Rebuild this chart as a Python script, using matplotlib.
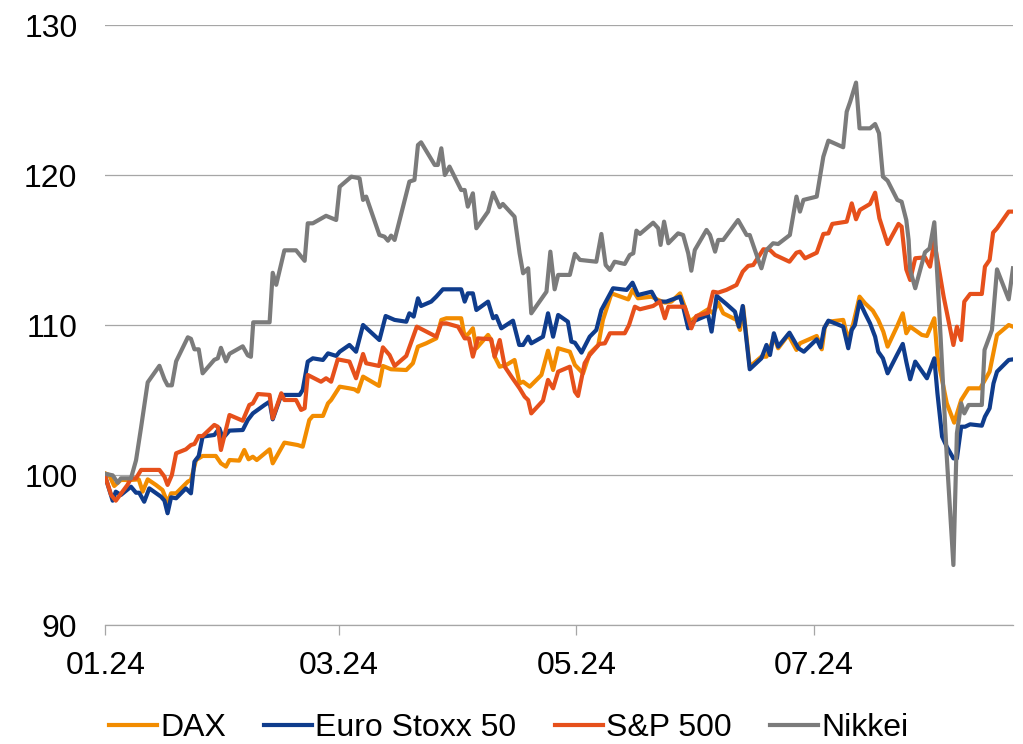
import matplotlib
matplotlib.use("Agg")
import matplotlib.pyplot as plt
import matplotlib.dates as mdates
import pandas as pd

# indexed performance, 01.01.2024 = day 0 (days since start, index value)
start = pd.Timestamp("2024-01-01")

dax_days = [0, 1.0, 2.3, 4.0, 6.6, 8.6, 9.6, 10.9, 13.0, 14.7, 16.0, 16.9, 18.2, 21.2, 22.0, 23.3, 25.0,
            28.4, 29.7, 31.0, 31.9, 34.4, 35.7, 36.8, 37.9, 38.9, 42.2, 43.0, 46.0, 49.4, 50.7, 52.4, 53.3,
            55.9, 57.2, 58.0, 60.2, 62.7, 64.0, 64.9, 66.2, 70.3, 71.3, 73.4, 77.3, 79.0, 80.3, 82.4, 85.0,
            86.3, 87.6, 91.4, 92.3, 93.4, 94.4, 95.3, 98.3, 99.1, 100.0, 101.3, 103.0, 105.1, 106.4, 107.3,
            109.0, 112.0, 113.7, 115.0, 116.3, 119.3, 120.6, 122.7, 124.4, 126.6, 127.8, 130.0, 134.3,
            135.4, 136.8, 140.3, 142.0, 143.7, 145.4, 147.6, 148.8, 150.1, 151.8, 154.8, 156.1, 157.4,
            158.7, 162.1, 163.0, 163.8, 165.5, 168.5, 169.8, 170.7, 171.7, 172.8, 175.4, 177.5, 178.4,
            182.7, 184.0, 184.8, 185.7, 189.5, 190.8, 192.1, 193.7, 195.1, 197.1, 198.5, 199.8, 200.9,
            203.3, 204.8, 205.7, 206.7, 209.7, 211.0, 212.9, 213.7, 216.1, 218.0, 219.8, 221.7, 224.7,
            227.1, 229.0, 232.0, 233.1]
dax_vals = [100.13, 100.02, 99.29, 99.69, 99.69, 99.73, 98.91, 99.73, 99.36, 99.02, 98.18, 98.8, 98.8,
            99.58, 99.69, 101.02, 101.29, 101.29, 100.8, 100.58, 101.02, 100.98, 101.69, 101.07, 101.24,
            101.02, 101.73, 100.8, 102.18, 102.02, 101.91, 103.69, 103.96, 103.96, 104.8, 105.02, 105.91,
            105.8, 105.73, 105.58, 106.58, 105.96, 107.29, 107.07, 107.02, 107.47, 108.58, 108.8, 109.13,
            110.36, 110.47, 110.47, 109.24, 109.47, 109.8, 108.47, 109.36, 109.02, 107.91, 107.24, 107.36,
            107.69, 106.13, 106.24, 105.91, 106.69, 108.31, 107.02, 108.47, 108.24, 107.36, 106.8, 108.13,
            108.69, 110.36, 112.13, 111.73, 112.36, 111.8, 111.91, 111.69, 111.51, 111.58, 112.13, 111.24,
            110.24, 110.58, 111.07, 110.8, 111.51, 110.8, 110.36, 109.69, 111.24, 107.24, 107.91, 107.91,
            108.47, 109.24, 108.47, 109.36, 108.36, 108.8, 109.29, 108.4, 109.91, 110.24, 110.36, 109.02,
            110.13, 111.91, 111.47, 110.98, 110.36, 109.58, 108.58, 109.91, 110.8, 109.47, 109.91, 109.36,
            109.29, 110.47, 107.91, 104.8, 103.51, 105.02, 105.8, 105.8, 106.91, 109.36, 110.02, 109.91]

stoxx_days = [0, 1.9, 2.7, 4.0, 6.6, 7.9, 8.7, 10.0, 11.3, 14.3, 15.2, 16.0, 16.9, 18.2, 20.7, 22.0, 22.9,
              24.0, 25.0, 28.0, 29.3, 30.2, 31.9, 35.3, 36.6, 37.9, 40.9, 42.2, 43.0, 45.2, 49.9, 50.7, 52.0,
              53.3, 55.9, 57.2, 59.3, 60.2, 62.7, 64.4, 66.2, 70.4, 72.0, 74.3, 77.3, 78.1, 79.2, 80.3, 81.1,
              83.7, 85.0, 86.7, 91.4, 92.3, 93.1, 94.4, 95.3, 98.3, 99.6, 100.4, 101.7, 104.7, 106.3, 107.3,
              108.6, 109.4, 112.4, 113.7, 115.0, 116.3, 118.8, 119.7, 120.6, 122.3, 124.4, 126.1, 127.4,
              130.4, 133.9, 135.4, 136.8, 140.3, 141.7, 144.1, 147.6, 148.4, 149.7, 151.4, 154.8, 155.7,
              157.0, 159.5, 161.7, 162.7, 163.7, 165.5, 168.5, 169.8, 170.7, 171.7, 172.8, 175.7, 178.0,
              179.4, 182.7, 183.7, 184.6, 185.7, 189.5, 190.8, 191.7, 192.5, 193.7, 195.1, 196.4, 197.7,
              198.5, 199.7, 200.9, 203.3, 204.8, 205.7, 206.7, 208.0, 211.0, 212.9, 213.7, 214.9, 216.1,
              217.8, 218.7, 219.8, 220.8, 222.1, 225.1, 225.9, 227.1, 228.1, 229.0, 232.0, 233.1]
stoxx_vals = [99.91, 98.31, 98.91, 98.69, 99.24, 98.84, 98.84, 98.24, 99.13, 98.58, 98.31, 97.47, 98.53,
              98.47, 99.13, 98.8, 100.91, 101.29, 102.58, 102.69, 103.13, 102.47, 102.98, 103.02, 103.69,
              104.13, 104.69, 104.91, 103.73, 105.36, 105.36, 105.69, 107.58, 107.8, 107.69, 108.13, 107.96,
              108.24, 108.69, 108.24, 110.02, 109.02, 110.62, 110.36, 110.24, 110.8, 110.58, 111.8, 111.29,
              111.58, 111.91, 112.4, 112.4, 111.58, 112.13, 112.13, 111.02, 111.58, 110.47, 110.62, 109.8,
              110.31, 108.69, 108.69, 109.24, 108.8, 109.24, 110.8, 109.24, 110.69, 110.24, 108.91, 108.84,
              108.18, 109.24, 109.69, 111.02, 112.47, 112.36, 112.84, 112.02, 112.24, 111.58, 111.58, 111.91,
              111.24, 109.8, 110.31, 110.69, 109.58, 111.96, 111.42, 110.91, 109.91, 111.29, 107.07, 107.8,
              108.69, 108.02, 109.47, 108.58, 109.51, 108.47, 108.24, 109.07, 108.53, 109.8, 110.31, 109.91,
              108.47, 109.69, 110.02, 111.58, 110.8, 110.13, 109.24, 108.24, 107.8, 106.8, 108.02, 108.76,
              107.58, 106.4, 107.58, 106.47, 107.8, 105.47, 102.58, 101.91, 101.13, 101.13, 103.24, 103.24,
              103.4, 103.31, 103.91, 104.47, 106.13, 106.91, 107.69, 107.73]

spx_days = [0, 1.5, 2.7, 5.7, 6.6, 7.9, 9.2, 13.9, 15.2, 16.0, 17.1, 18.2, 20.7, 22.0, 22.9, 24.0, 25.0,
            28.0, 28.9, 29.7, 31.9, 35.3, 37.0, 37.9, 39.2, 42.2, 43.0, 45.2, 46.0, 49.0, 50.3, 51.2, 52.0,
            55.4, 56.7, 58.0, 59.7, 62.7, 64.4, 66.2, 67.0, 70.3, 71.3, 73.0, 74.3, 77.3, 80.0, 85.0, 86.3,
            87.6, 90.6, 92.3, 93.4, 94.4, 95.7, 99.1, 100.0, 101.3, 102.6, 104.3, 106.4, 107.7, 108.6, 109.4,
            112.4, 113.7, 115.0, 116.3, 119.3, 120.6, 121.4, 123.1, 124.4, 126.9, 128.3, 129.6, 133.4, 134.5,
            136.0, 137.3, 140.7, 142.4, 143.7, 144.6, 148.8, 150.5, 151.8, 154.8, 156.1, 157.4, 159.5, 162.1,
            163.7, 165.1, 166.4, 169.0, 170.7, 172.0, 175.7, 177.5, 178.4, 179.7, 182.7, 184.4, 185.7, 186.7,
            190.4, 191.7, 192.8, 193.8, 196.4, 197.7, 198.8, 200.9, 203.7, 204.5, 205.7, 206.7, 208.0, 210.5,
            211.8, 212.9, 215.3, 217.8, 218.7, 219.8, 220.6, 222.1, 225.1, 225.9, 227.1, 228.0, 229.0, 232.0,
            233.1]
spx_vals = [99.91, 98.69, 98.31, 99.36, 99.8, 99.8, 100.36, 100.36, 99.91, 99.36, 100.02, 101.47, 101.73,
            102.02, 102.09, 102.62, 102.62, 103.36, 103.24, 101.69, 104.02, 103.64, 104.69, 104.8, 105.42,
            105.36, 103.8, 105.47, 105.02, 105.02, 104.36, 104.47, 106.69, 106.24, 106.47, 106.24, 107.73,
            107.58, 106.47, 108.09, 107.47, 107.29, 108.53, 108.02, 107.29, 107.96, 109.91, 109.24, 110.13,
            110.13, 109.91, 109.13, 109.13, 107.91, 109.13, 109.07, 107.91, 109.02, 107.24, 106.58, 105.8,
            105.24, 105.02, 104.13, 104.98, 106.36, 105.8, 106.91, 107.24, 105.58, 105.29, 107.47, 108.02,
            108.76, 108.8, 109.47, 109.47, 110.02, 111.24, 111.07, 111.29, 111.58, 110.47, 111.24, 111.24,
            109.8, 110.62, 110.84, 112.24, 112.18, 112.36, 112.69, 113.58, 113.96, 114.02, 115.07, 115.02,
            114.69, 114.24, 114.84, 114.91, 114.47, 114.84, 116.09, 116.13, 116.76, 116.91, 118.13, 117.07,
            117.69, 118.09, 118.84, 117.13, 115.42, 116.76, 116.58, 113.73, 113.02, 114.47, 114.53, 113.91,
            115.58, 111.91, 108.69, 109.91, 109.02, 111.58, 112.09, 112.09, 113.91, 114.36, 116.18, 116.47,
            117.58, 117.58]

nikkei_days = [0, 1.9, 3.2, 4.0, 6.6, 7.9, 9.2, 10.9, 13.9, 15.2, 16.0, 17.1, 18.2, 21.2, 22.0, 22.9, 24.0,
               25.0, 28.0, 28.9, 29.7, 31.0, 31.9, 35.3, 36.6, 37.4, 38.0, 42.2, 43.0, 43.9, 46.0, 49.0, 51.2,
               52.0, 53.3, 56.7, 59.3, 60.2, 63.2, 65.3, 66.2, 67.0, 70.4, 71.7, 72.6, 73.4, 74.3, 78.1, 79.4,
               80.3, 81.1, 84.6, 85.4, 86.3, 87.2, 88.4, 91.4, 92.3, 93.1, 94.4, 95.3, 98.3, 99.6, 101.3,
               102.1, 105.1, 106.4, 107.3, 108.6, 109.4, 113.3, 114.3, 115.4, 116.3, 119.3, 120.6, 121.9,
               126.1, 127.4, 128.5, 129.6, 130.8, 133.4, 134.7, 135.6, 136.4, 137.3, 140.7, 142.0, 142.6,
               143.5, 144.6, 147.1, 148.4, 149.7, 150.5, 151.4, 154.4, 155.3, 156.6, 157.4, 158.7, 162.5,
               164.7, 165.5, 167.7, 168.5, 169.8, 171.5, 172.8, 175.8, 177.5, 178.4, 179.3, 182.7, 184.4,
               185.7, 189.5, 190.4, 191.3, 192.8, 193.7, 196.4, 197.7, 198.7, 199.7, 200.9, 203.4, 204.5,
               205.7, 206.3, 206.7, 208.0, 210.5, 211.7, 212.9, 214.0, 216.1, 217.8, 218.7, 219.8, 220.6,
               221.7, 225.1, 225.8, 227.7, 229.0, 232.0, 233.1]
nikkei_vals = [100.1, 100.0, 99.5, 99.8, 99.8, 101.0, 103.2, 106.2, 107.3, 106.4, 106.0, 106.0, 107.6,
               109.2, 109.1, 108.4, 108.4, 106.8, 107.7, 107.8, 108.5, 107.6, 108.1, 108.6, 108.0, 107.9,
               110.2, 110.2, 113.5, 112.7, 115.0, 115.0, 114.3, 116.8, 116.8, 117.3, 117.02, 119.24, 119.91,
               119.8, 118.36, 118.58, 116.02, 115.91, 115.64, 115.98, 115.69, 119.58, 119.69, 122.02, 122.2,
               120.69, 120.69, 121.8, 120.02, 120.58, 119.02, 119.02, 117.91, 118.8, 116.47, 117.58, 118.84,
               117.87, 118.09, 117.24, 114.8, 113.47, 113.8, 110.8, 112.24, 114.91, 112.4, 113.36, 113.36,
               114.76, 114.36, 114.24, 116.09, 114.02, 113.69, 114.24, 114.09, 114.69, 114.8, 116.31, 116.09,
               116.84, 116.47, 115.36, 116.91, 115.47, 116.13, 116.02, 114.8, 113.64, 115.02, 116.36, 116.02,
               114.91, 115.69, 115.69, 117.02, 116.02, 116.02, 114.36, 113.8, 115.02, 115.47, 115.42, 116.02,
               118.58, 117.58, 118.36, 118.58, 121.24, 122.31, 121.87, 124.24, 124.91, 126.18, 123.13, 123.13,
               123.42, 122.8, 119.91, 119.64, 118.36, 118.24, 117.02, 115.69, 113.69, 112.47, 114.87, 115.13,
               116.87, 111.8, 101.24, 94.02, 102.8, 104.8, 104.13, 104.69, 104.69, 108.36, 109.69, 113.73,
               111.73, 113.8]

series_names = ["DAX", "Euro Stoxx 50", "S&P 500", "Nikkei"]
series_colors = ["#F28C00", "#0F3C8C", "#E6501B", "#7B7B7B"]

plt.rcParams['font.family'] = ['Liberation Sans', 'DejaVu Sans']

fig = plt.figure(figsize=(10.23, 7.44), dpi=100)
ax = fig.add_axes([0.1029, 0.1595, 0.8873, 0.8065])

data = [(dax_days, dax_vals), (stoxx_days, stoxx_vals), (spx_days, spx_vals), (nikkei_days, nikkei_vals)]
for (d, v), name, col in zip(data, series_names, series_colors):
    dates = start + pd.to_timedelta(d, unit="D")
    ax.plot(dates, v, color=col, lw=3.0, label=name, solid_joinstyle="round")

grid_col = "#A6A6A6"
ax.set_ylim(90, 130)
ax.set_yticks([90, 100, 110, 120, 130])
ax.yaxis.grid(True, color=grid_col, lw=0.9)
ax.set_axisbelow(True)
ax.set_xlim(start, start + pd.Timedelta(days=233.1))
ax.xaxis.set_major_locator(mdates.MonthLocator(bymonth=[1, 3, 5, 7]))
ax.xaxis.set_major_formatter(mdates.DateFormatter("%m.%y"))

for s in ["top", "right", "left"]:
    ax.spines[s].set_visible(False)
ax.spines["bottom"].set_color(grid_col)
ax.spines["bottom"].set_linewidth(0.9)

ax.tick_params(axis="y", length=0, pad=20, labelsize=23)
ax.tick_params(axis="x", length=7.2, width=0.9, color=grid_col, direction="out", pad=11, labelsize=23)

fig.legend(loc="center", bbox_to_anchor=(0.497, 0.021), ncol=4, frameon=False, fontsize=23,
           handlelength=1.5, handletextpad=0.1, columnspacing=1.2, borderaxespad=0)

fig.savefig("out.png", dpi=100)
